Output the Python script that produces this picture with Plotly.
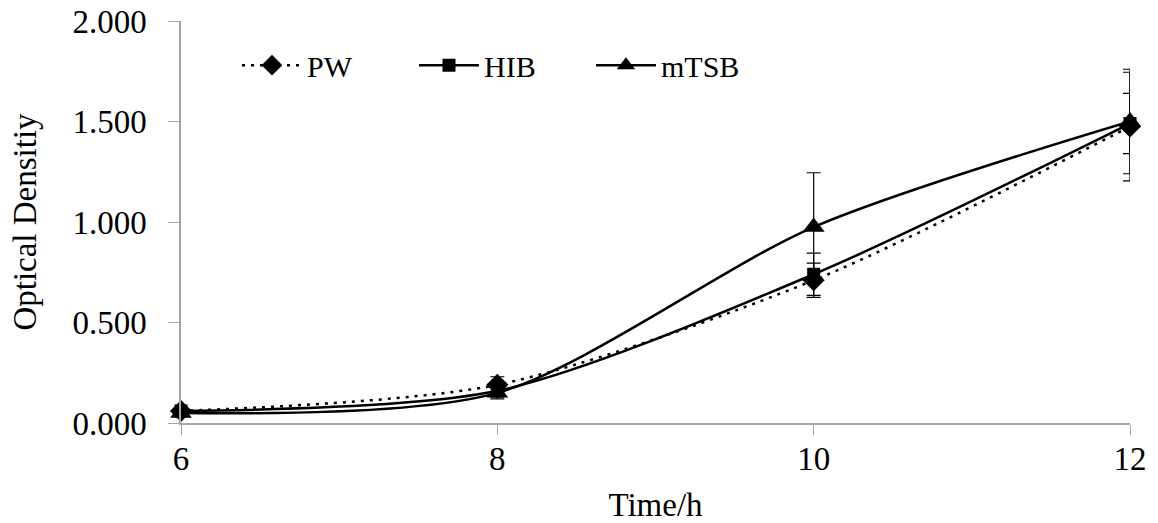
import plotly.graph_objects as go

time_h = [6, 8, 10, 12]
pw = [0.060, 0.190, 0.710, 1.475]
pw_err = [0.010, 0.040, 0.085, 0.270]
hib = [0.060, 0.160, 0.740, 1.490]
hib_err = [0.010, 0.030, 0.105, 0.150]
mtsb = [0.050, 0.150, 0.975, 1.500]
mtsb_err = [0.010, 0.030, 0.270, 0.260]

font_family = "Liberation Serif, Times New Roman, serif"

fig = go.Figure()

def add(name, y, err, dash, symbol, size):
    fig.add_trace(go.Scatter(
        x=time_h, y=y, name=name, mode="lines+markers",
        line=dict(color="black", width=2.5, dash=dash, shape="spline", smoothing=0.8),
        marker=dict(color="black", symbol=symbol, size=size),
        error_y=dict(type="data", array=err, visible=True, color="black", thickness=1.2, width=7),
        cliponaxis=False,
    ))

add("PW", pw, pw_err, "3px,6px", "diamond", 17)
add("HIB", hib, hib_err, "solid", "square", 13)
add("mTSB", mtsb, mtsb_err, "solid", "triangle-up", 19)

fig.update_layout(
    width=1158, height=523,
    margin=dict(l=181, r=28, t=21, b=100),
    paper_bgcolor="white", plot_bgcolor="white",
    font=dict(family=font_family, size=33, color="black"),
    showlegend=True,
    legend=dict(orientation="h", x=0.059, y=0.89, xanchor="left", yanchor="middle",
                font=dict(size=30, family=font_family), itemwidth=60,
                entrywidth=102, entrywidthmode="pixels", bgcolor="rgba(0,0,0,0)"),
    xaxis=dict(range=[6, 12], tickvals=time_h, ticktext=["6", "8", "10", "12"],
               automargin=False,
               showline=True, linecolor="#a6a6a6", linewidth=1.5, showgrid=False, zeroline=False,
               ticks="outside", ticklen=10, tickcolor="#a6a6a6", ticklabelstandoff=-4,
               tickfont=dict(size=33, family=font_family),
               title=dict(text="Time/h", font=dict(size=33, family=font_family), standoff=18)),
    yaxis=dict(range=[0, 2], tickvals=[0, 0.5, 1.0, 1.5, 2.0],
               ticktext=["0.000", "0.500", "1.000", "1.500", "2.000"],
               automargin=False,
               showline=True, linecolor="#a6a6a6", linewidth=1.5, showgrid=False, zeroline=False,
               ticks="outside", ticklen=11, tickcolor="#a6a6a6", ticklabelstandoff=15,
               tickfont=dict(size=33, family=font_family),
               title=dict(text="Optical Densitiy", font=dict(size=33, family=font_family), standoff=26)),
)

fig.write_html("out.html", config={"displayModeBar": False},
               post_script="document.body.style.margin='0';")
